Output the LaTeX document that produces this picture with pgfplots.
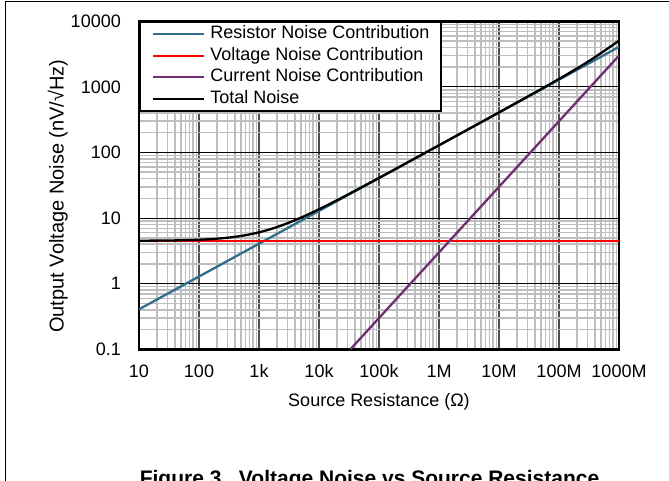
\documentclass[border=0pt]{standalone}
\usepackage{fontspec}
\setmainfont{Liberation Sans}
\usepackage{pgfplots}
\pgfplotsset{compat=1.18}
\definecolor{resblue}{RGB}{50,110,140}
\definecolor{curpurple}{RGB}{112,48,112}
\definecolor{gridgray}{RGB}{190,190,190}
\newcommand{\lblfont}{\fontsize{18}{21}\selectfont}
\begin{document}
\begin{tikzpicture}[x=1pt,y=1pt]
\useasboundingbox (0,0) rectangle (669,481);
\fill[white] (0,0) rectangle (669,481);
\draw[line width=1.3pt] (5.7,-5) -- (5.7,479.7) -- (675,479.7);
\begin{axis}[
  at={(139pt,131.7pt)}, anchor=south west,
  scale only axis, width=480pt, height=328pt,
  xmode=log, ymode=log,
  xmin=10, xmax=1e9, ymin=0.1, ymax=10000,
  xtick={10,100,1000,1e4,1e5,1e6,1e7,1e8,1e9},
  xticklabels={10,100,1k,10k,100k,1M,10M,100M,1000M},
  ytick={0.1,1,10,100,1000,10000},
  yticklabels={0.1,1,10,100,1000,10000},
  minor xtick={20,30,40,50,60,70,80,90,
    200,300,400,500,600,700,800,900,
    2e3,3e3,4e3,5e3,6e3,7e3,8e3,9e3,
    2e4,3e4,4e4,5e4,6e4,7e4,8e4,9e4,
    2e5,3e5,4e5,5e5,6e5,7e5,8e5,9e5,
    2e6,3e6,4e6,5e6,6e6,7e6,8e6,9e6,
    2e7,3e7,4e7,5e7,6e7,7e7,8e7,9e7,
    2e8,3e8,4e8,5e8,6e8,7e8,8e8,9e8},
  minor ytick={0.2,0.3,0.4,0.5,0.6,0.7,0.8,0.9,
    2,3,4,5,6,7,8,9,
    20,30,40,50,60,70,80,90,
    200,300,400,500,600,700,800,900,
    2000,3000,4000,5000,6000,7000,8000,9000},
  grid=both,
  minor grid style={gridgray, line width=1.5pt},
  major x grid style={black!70, line width=1.3pt},
  major y grid style={black, line width=0.8pt},
  major tick length=0pt, minor tick length=0pt,
  axis line style={black, line width=2.5pt},
  tick label style={font=\lblfont},
  yticklabel style={inner sep=0pt, xshift=-18pt},
  xticklabel style={anchor=base, inner sep=0pt, yshift=-28.7pt},
  label style={font=\lblfont},
  xlabel={Source Resistance (Ω)},
  ylabel={Output Voltage Noise (nV/√Hz)},
  xlabel style={at={(axis description cs:0.5,-0.160)}, anchor=center},
  ylabel style={at={(axis description cs:-0.169,0.467)}, anchor=center,
    font=\fontsize{20}{23}\selectfont},
  legend image code/.code={\draw[#1] (0pt,0pt) -- (51pt,0pt);},
  legend cell align=left,
  legend style={at={(0,1)}, anchor=north west, draw=black, line width=2pt,
    fill=white, font=\lblfont, inner xsep=12pt, inner ysep=1pt,
    row sep=0pt, column sep=5pt,
    nodes={inner sep=0pt, text height=15.5pt, text depth=6.1pt}},
]
\addplot[resblue, line width=2.3pt] coordinates {(10,0.407) (1e9,4070)};
\addplot[red, line width=2.3pt] coordinates {(10,4.5) (1e9,4.5)};
\addplot[curpurple, line width=2.3pt] coordinates {(33333,0.1) (1e9,3000)};
\addplot[black, line width=2.3pt, smooth] coordinates {
  (10,4.518) (31.6,4.558) (56.2,4.602) (100,4.680) (178,4.816) (316,5.048)
  (562,5.437) (1000,6.067) (1778,7.050) (3162,8.522) (5623,10.648)
  (10000,13.634) (17783,17.74) (31623,23.33) (100000,40.95) (316228,72.52)
  (1e6,128.8) (3.162e6,229.1) (1e7,408.1) (3.162e7,729.9) (1e8,1321.5)
  (3.162e8,2477.5) (1e9,5056)};
\legend{Resistor Noise Contribution, Voltage Noise Contribution,
  Current Noise Contribution, Total Noise}
\end{axis}
\node[anchor=north, inner sep=0pt, font=\bfseries\fontsize{21}{25}\selectfont]
  at (369.5,11) {Figure 3.\ \ Voltage Noise vs Source Resistance};
\end{tikzpicture}
\end{document}
